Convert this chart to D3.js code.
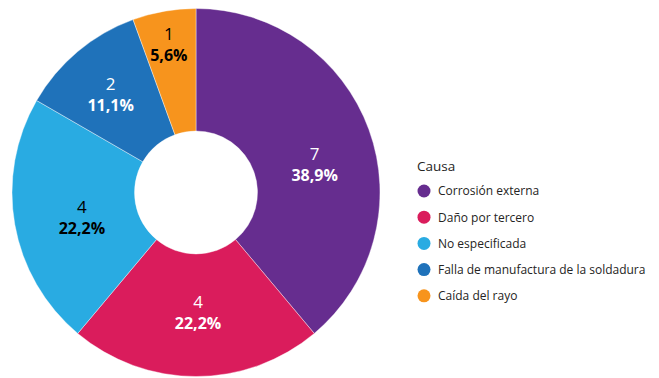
<!DOCTYPE html>
<html>
<head>
<meta charset="utf-8">
<script src="https://cdn.jsdelivr.net/npm/d3@7"></script>
<style>
  html, body { margin: 0; padding: 0; background: #fff; }
  svg { display: block; }
  text { font-family: "Open Sans", "Noto Sans", sans-serif; }
</style>
</head>
<body>
<svg id="chart" width="659" height="378"></svg>
<script>
// Causes of incidents and their counts
const causes = ["Corrosión externa", "Daño por tercero", "No especificada", "Falla de manufactura de la soldadura", "Caída del rayo"];
const counts = [7, 4, 4, 2, 1];
const percentLabels = ["38,9%", "22,2%", "22,2%", "11,1%", "5,6%"];
const colors = ["#662d8f", "#da1c5c", "#29abe2", "#1f72ba", "#f7941d"];
const labelColors = ["#ffffff", "#ffffff", "#000000", "#ffffff", "#000000"];

// Layout
const cx = 196, cy = 192.5, outerR = 184, innerR = 61.5, labelR = 122;
// small per-slice shifts so each label sits comfortably inside its slice
const labelShift = [[4, 13.5], [2, -2.5], [6, 3.5], [-7, -5.5], [-6, -28.5]];

const svg = d3.select("#chart");
const g = svg.append("g").attr("transform", `translate(${cx},${cy})`);

const pie = d3.pie().value(d => d.count).sort(null);
const arc = d3.arc().innerRadius(innerR).outerRadius(outerR);
const labelArc = d3.arc().innerRadius(labelR).outerRadius(labelR);

const data = causes.map((c, i) => ({ cause: c, count: counts[i], pct: percentLabels[i], i }));
const arcs = pie(data);

g.selectAll("path.slice")
  .data(arcs)
  .enter().append("path")
  .attr("class", "slice")
  .attr("d", arc)
  .attr("fill", d => colors[d.data.i])
  .attr("stroke", "#ffffff")
  .attr("stroke-width", 0.4);

const lab = g.selectAll("g.lab")
  .data(arcs)
  .enter().append("g")
  .attr("class", "lab")
  .attr("transform", d => {
    const [x, y] = labelArc.centroid(d);
    const s = labelShift[d.data.i];
    return `translate(${x + s[0]},${y + s[1]})`;
  });

lab.append("text")
  .attr("text-anchor", "middle")
  .attr("y", -4)
  .attr("font-size", 17)
  .attr("fill", d => labelColors[d.data.i])
  .text(d => d.data.count);

lab.append("text")
  .attr("text-anchor", "middle")
  .attr("y", 17)
  .attr("font-size", 16)
  .attr("font-weight", "bold")
  .attr("fill", d => labelColors[d.data.i])
  .text(d => d.data.pct);

// Legend
const legend = svg.append("g").attr("transform", "translate(417,0)");
legend.append("text")
  .attr("x", 0).attr("y", 171)
  .attr("font-size", 13.5)
  .attr("fill", "#252423")
  .text("Causa");

const items = legend.selectAll("g.item")
  .data(data)
  .enter().append("g")
  .attr("class", "item")
  .attr("transform", (d, i) => `translate(0,${191 + i * 26.2})`);

items.append("circle")
  .attr("cx", 7).attr("cy", 0).attr("r", 6.5)
  .attr("fill", d => colors[d.i]);

items.append("text")
  .attr("x", 21).attr("y", 4.3)
  .attr("font-size", 12)
  .attr("fill", "#252423")
  .text(d => d.cause);
</script>
</body>
</html>
